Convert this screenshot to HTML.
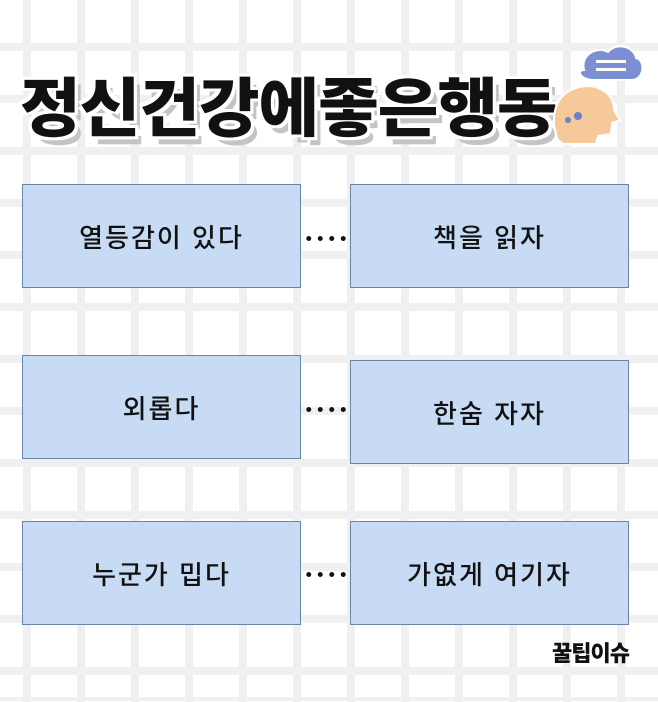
<!DOCTYPE html>
<html><head><meta charset="utf-8"><style>
html,body{margin:0;padding:0}
body{width:658px;height:702px;position:relative;overflow:hidden;background:#fff;
font-family:"Liberation Sans","Noto Sans CJK KR",sans-serif;}
.grid{position:absolute;inset:0;
background-image:
repeating-linear-gradient(90deg,transparent 0 23px,#f0f0f3 23px 31px,transparent 31px 54px),
repeating-linear-gradient(0deg,transparent 0 22px,#f0f0f0 22px 30px,transparent 30px 52px);
background-position:0 0, 0 -5px;}
.box{position:absolute;width:277px;height:102px;background:#c7dcf4;border:1.5px solid #6a86a6;
display:flex;align-items:center;justify-content:center;font-size:26px;font-weight:500;color:#111;letter-spacing:2px}
.dots{position:absolute;width:46px;height:5px;
background:radial-gradient(circle,#111 2.2px,transparent 2.7px) 0 0/11.5px 5px repeat-x}
.title{position:absolute;left:20px;top:58px;font-size:64px;font-weight:900;color:#111;letter-spacing:-1px;transform:scaleX(1.03);transform-origin:left;
text-shadow:3px 3px 0 #fff,-3px -3px 0 #fff,3px -3px 0 #fff,-3px 3px 0 #fff,6px 8px 0 #c4c4c4;}
.brand{position:absolute;left:552px;top:636px;font-size:22px;font-weight:900;color:#111;letter-spacing:-1px}
</style></head><body>
<div class="grid"></div>
<div class="title">정신건강에좋은행동</div>
<svg style="position:absolute;left:548px;top:40px" width="100" height="105" viewBox="0 0 100 105">
<path d="M10 100 C2 80 5 55 28 48 C48 42 66 52 66 70 L72 80 L64 83 L63 94 L50 96 L48 104 L15 104 Z" fill="#f6c99a" stroke="#fff" stroke-width="2"/>
<circle cx="20" cy="80" r="3" fill="#6c7fc8"/><circle cx="30" cy="76" r="4" fill="#6c7fc8"/>
<path d="M36 30 C32 14 50 6 60 12 C68 2 86 6 88 18 C98 20 96 40 84 40 L46 40 C32 40 28 30 36 30Z" fill="#7c8fd2" stroke="#fff" stroke-width="2"/>
<rect x="48" y="20" width="30" height="3" fill="#fff"/><rect x="48" y="28" width="30" height="3" fill="#fff"/>
</svg>
<div class="box" style="left:22px;top:184px">열등감이 있다</div>
<div class="box" style="left:350px;top:184px">책을 읽자</div>
<div class="box" style="left:22px;top:355px">외롭다</div>
<div class="box" style="left:350px;top:360px">한숨 자자</div>
<div class="box" style="left:22px;top:521px">누군가 밉다</div>
<div class="box" style="left:350px;top:521px">가엾게 여기자</div>
<div class="dots" style="left:303px;top:236px"></div>
<div class="dots" style="left:303px;top:407px"></div>
<div class="dots" style="left:303px;top:572px"></div>
<div class="brand">꿀팁이슈</div>
</body></html>
